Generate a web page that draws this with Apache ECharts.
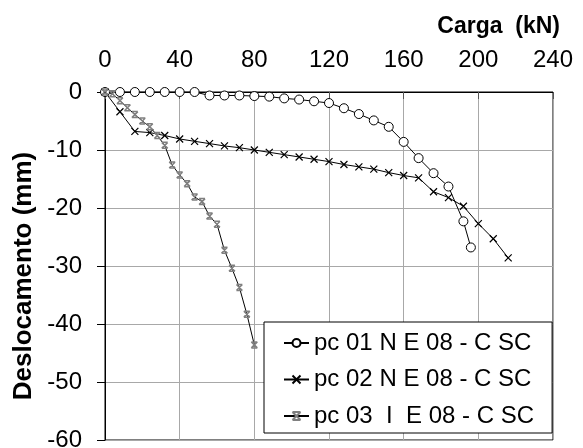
<!DOCTYPE html>
<html>
<head>
<meta charset="utf-8">
<script src="https://cdn.jsdelivr.net/npm/echarts@6/dist/echarts.min.js"></script>
<style>
html, body { margin: 0; padding: 0; background: #fff; }
#main { width: 583px; height: 448px; }
</style>
</head>
<body>
<div id="main"></div>
<script>
// carga (kN) e deslocamento (mm) de cada prova de carga
var carga01 = [0, 8, 16, 24, 32, 40, 48, 56, 64, 72, 80, 88, 96, 104, 112, 120, 128, 136, 144, 152, 160, 168, 176, 184, 192, 196];
var desl01 = [0, 0, 0, 0, 0, 0, 0, -0.6, -0.6, -0.6, -0.7, -0.8, -1.1, -1.3, -1.6, -1.9, -2.8, -3.8, -4.9, -6.0, -8.6, -11.4, -14.0, -16.3, -22.3, -26.8];

var carga02 = [0, 8, 16, 24, 32, 40, 48, 56, 64, 72, 80, 88, 96, 104, 112, 120, 128, 136, 144, 152, 160, 168, 176, 184, 192, 200, 208, 216];
var desl02 = [0, -3.4, -6.8, -7.0, -7.5, -8.1, -8.5, -8.9, -9.3, -9.6, -10.0, -10.4, -10.8, -11.2, -11.6, -12.0, -12.5, -12.9, -13.3, -13.9, -14.4, -14.8, -17.2, -18.2, -19.7, -22.7, -25.3, -28.6];

var carga03 = [0, 4, 8, 12, 16, 20, 24, 28, 32, 36, 40, 44, 48, 52, 56, 60, 64, 68, 72, 76, 80];
var desl03 = [0, -0.3, -1.5, -2.7, -3.9, -5.0, -6.0, -7.5, -9.2, -12.6, -14.3, -15.8, -18.1, -18.9, -21.4, -22.8, -27.3, -30.4, -33.7, -38.3, -43.6];

var nomes = ['pc 01 N E 08 - C SC', 'pc 02 N E 08 - C SC', 'pc 03  I  E 08 - C SC'];

function pares(xs, ys) {
	return xs.map(function (x, i) { return [x, ys[i]]; });
}

var fonte = 'Liberation Sans, Arial, sans-serif';
var simboloX = 'path://M0,0L10,10M10,0L0,10';
var simboloAst = 'path://M0,0L10,10M10,0L0,10M0,0L10,0M0,10L10,10';

var myChart = echarts.init(document.getElementById('main'));

myChart.setOption({
	animation: false,
	backgroundColor: '#fff',
	textStyle: { fontFamily: fonte },

	title: {
		text: 'Carga  (kN)',
		right: 18,
		top: 10,
		textStyle: { fontFamily: fonte, fontSize: 23, fontWeight: 'bold', color: '#000' }
	},

	grid: {
		left: 105,
		right: 30,
		top: 92,
		bottom: 8,
		outerBoundsMode: 'none',
		containLabel: false,
		show: true,
		borderColor: '#000',
		borderWidth: 1
	},

	legend: {
		orient: 'vertical',
		left: 264,
		top: 322,
		padding: [9, 18, 5, 19],
		itemGap: 12.5,
		itemWidth: 25,
		itemHeight: 10,
		itemTextGap: 7,
		borderColor: '#000',
		borderWidth: 1,
		backgroundColor: '#fff',
		textStyle: { fontFamily: fonte, fontSize: 24, color: '#000' },
		data: nomes
	},

	xAxis: {
		type: 'value',
		position: 'top',
		min: 0,
		max: 240,
		interval: 40,
		axisLine: { lineStyle: { color: '#000', width: 1 } },
		axisTick: { inside: true, length: 7, lineStyle: { color: '#555' } },
		axisLabel: { margin: 20, fontFamily: fonte, fontSize: 24, color: '#000' },
		splitLine: { lineStyle: { color: '#a8a8a8', width: 1 } }
	},

	yAxis: {
		type: 'value',
		name: 'Deslocamento (mm)',
		nameLocation: 'middle',
		nameGap: 67,
		nameTextStyle: { fontFamily: fonte, fontSize: 26, fontWeight: 'bold', color: '#000', padding: [0, 20, 0, 0] },
		min: -60,
		max: 0,
		interval: 10,
		axisLine: { onZero: false, lineStyle: { color: '#000', width: 1 } },
		axisTick: { inside: false, length: 8, lineStyle: { color: '#000' } },
		axisLabel: { margin: 23, fontFamily: fonte, fontSize: 24, color: '#000' },
		splitLine: { lineStyle: { color: '#a8a8a8', width: 1 } }
	},

	series: [
		{
			name: nomes[0],
			type: 'line',
			data: pares(carga01, desl01),
			symbol: 'circle',
			symbolSize: 9,
			showAllSymbol: true,
			lineStyle: { color: '#000', width: 1 },
			itemStyle: { color: '#fff', borderColor: '#000', borderWidth: 1 }
		},
		{
			name: nomes[1],
			type: 'line',
			data: pares(carga02, desl02),
			symbol: simboloX,
			symbolSize: 7,
			showAllSymbol: true,
			lineStyle: { color: '#000', width: 1 },
			itemStyle: { color: 'none', borderColor: '#000', borderWidth: 1.2 }
		},
		{
			name: nomes[2],
			type: 'line',
			data: pares(carga03, desl03),
			symbol: simboloAst,
			symbolSize: 6,
			showAllSymbol: true,
			lineStyle: { color: '#000', width: 1 },
			itemStyle: { color: 'none', borderColor: '#808080', borderWidth: 1.5 }
		}
	]
});
</script>
</body>
</html>
